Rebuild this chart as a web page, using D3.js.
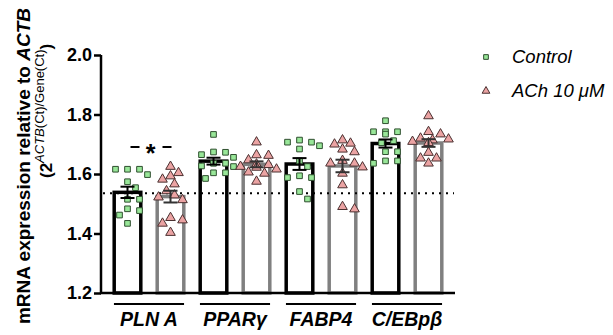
<!DOCTYPE html>
<html>
<head>
<meta charset="utf-8">
<script src="https://cdn.jsdelivr.net/npm/d3@7"></script>
<style>
body { margin: 0; background: #fff; }
text { font-family: Arial, "Liberation Sans", sans-serif; }
</style>
</head>
<body>
<div id="chart"></div>
<script>
// data
var genes = ['PLN A', 'PPARγ', 'FABP4', 'C/EBpβ'];
var groups = ['Control', 'ACh 10 μM'];
var controlVals = [
    [1.616, 1.616, 1.616, 1.598, 1.574, 1.554, 1.515, 1.515, 1.483, 1.477, 1.462, 1.434],
    [1.733, 1.673, 1.656, 1.665, 1.674, 1.636, 1.625, 1.627, 1.636, 1.604, 1.604, 1.585],
    [1.707, 1.714, 1.684, 1.695, 1.707, 1.644, 1.625, 1.594, 1.588, 1.588, 1.541, 1.516],
    [1.779, 1.742, 1.742, 1.742, 1.734, 1.712, 1.705, 1.675, 1.675, 1.644, 1.636, 1.644]
];
var achVals = [
    [1.625, 1.604, 1.593, 1.582, 1.566, 1.543, 1.529, 1.522, 1.513, 1.453, 1.445, 1.434, 1.403],
    [1.707, 1.662, 1.664, 1.647, 1.633, 1.631, 1.622, 1.616, 1.625, 1.606, 1.602, 1.575],
    [1.703, 1.714, 1.700, 1.683, 1.674, 1.636, 1.645, 1.636, 1.623, 1.602, 1.563, 1.482, 1.490],
    [1.795, 1.734, 1.742, 1.714, 1.717, 1.720, 1.705, 1.709, 1.672, 1.653, 1.636, 1.653]
];
var yTicks = [1.2, 1.4, 1.6, 1.8, 2.0];
var refLine = 1.535;

var width = 613, height = 335;
var svg = d3.select('#chart').append('svg')
    .attr('width', width)
    .attr('height', height);

// one row per bar
var rows = [];
genes.forEach(function (g, i) {
    rows.push({ key: g + '|c', gene: g, grp: 0, vals: controlVals[i] });
    rows.push({ key: g + '|a', gene: g, grp: 1, vals: achVals[i] });
});
rows.forEach(function (r) {
    r.mean = d3.mean(r.vals);
    r.sem = d3.deviation(r.vals) / Math.sqrt(r.vals.length);
});

var x = d3.scaleBand()
    .domain(rows.map(d => d.key))
    .range([106, 450])
    .paddingInner(0.3)
    .paddingOuter(0.15);

var y = d3.scaleLinear()
    .domain([1.2, 2.0])
    .range([293, 55]);

var bw = x.bandwidth();
var barStroke = ['#000', '#808080'];
var sw = 3.5;

// bars
svg.selectAll('.bar')
    .data(rows)
    .enter()
    .append('rect')
    .attr('class', 'bar')
    .attr('x', d => x(d.key) + sw / 2)
    .attr('y', d => y(d.mean))
    .attr('width', bw - sw)
    .attr('height', d => y(1.2) - y(d.mean))
    .attr('fill', '#fff')
    .attr('stroke', d => barStroke[d.grp])
    .attr('stroke-width', sw);

// dotted reference line
svg.append('line')
    .attr('x1', 103).attr('x2', 454)
    .attr('y1', y(refLine)).attr('y2', y(refLine))
    .attr('stroke', '#000')
    .attr('stroke-width', 2)
    .attr('stroke-dasharray', '2,5');

// simple swarm placement so points don't overlap
function swarm(vals, r) {
    var idx = vals.map((v, i) => i).sort((a, b) => vals[b] - vals[a]);
    var placed = [];
    var out = new Array(vals.length);
    idx.forEach(function (i) {
        var py = y(vals[i]);
        var cands = [0];
        for (var k = 1; k < 6; k++) { cands.push(k * 4); cands.push(-k * 4); }
        var best = 0;
        for (var c = 0; c < cands.length; c++) {
            var ok = placed.every(p => Math.hypot(p.x - cands[c], p.y - py) >= r);
            if (ok) { best = cands[c]; break; }
        }
        placed.push({ x: best, y: py });
        out[i] = best;
    });
    return out;
}

var pts = [];
rows.forEach(function (r) {
    var off = swarm(r.vals, 8.5);
    r.vals.forEach(function (v, i) {
        pts.push({ grp: r.grp, cx: x(r.key) + bw / 2 + off[i], cy: y(v) });
    });
});

var sq = d3.symbol().type(d3.symbolSquare).size(32);
var tri = d3.symbol().type(d3.symbolTriangle).size(40);
var sqLeg = d3.symbol().type(d3.symbolSquare).size(22);
var triLeg = d3.symbol().type(d3.symbolTriangle).size(26);

svg.selectAll('.pt')
    .data(pts)
    .enter()
    .append('path')
    .attr('class', 'pt')
    .attr('transform', d => 'translate(' + d.cx + ',' + d.cy + ')')
    .attr('d', d => d.grp === 0 ? sq() : tri())
    .attr('fill', d => d.grp === 0 ? '#98e698' : '#eba3a3')
    .attr('stroke', d => d.grp === 0 ? '#2f4f2f' : '#4a3030')
    .attr('stroke-width', 1);

// error bars (mean +/- SEM)
var eb = svg.selectAll('.err')
    .data(rows)
    .enter()
    .append('g')
    .attr('class', 'err')
    .attr('stroke', d => d.grp === 0 ? '#000' : '#333')
    .attr('stroke-width', 2);
eb.append('line')
    .attr('x1', d => x(d.key) + bw / 2).attr('x2', d => x(d.key) + bw / 2)
    .attr('y1', d => y(d.mean + d.sem)).attr('y2', d => y(d.mean - d.sem));
eb.append('line')
    .attr('x1', d => x(d.key) + bw / 2 - 7).attr('x2', d => x(d.key) + bw / 2 + 7)
    .attr('y1', d => y(d.mean + d.sem)).attr('y2', d => y(d.mean + d.sem));
eb.append('line')
    .attr('x1', d => x(d.key) + bw / 2 - 7).attr('x2', d => x(d.key) + bw / 2 + 7)
    .attr('y1', d => y(d.mean - d.sem)).attr('y2', d => y(d.mean - d.sem));

// axes
var yAxis = d3.axisLeft(y)
    .tickValues(yTicks)
    .tickFormat(d3.format('.1f'))
    .tickSize(7)
    .tickPadding(2);

var gy = svg.append('g')
    .attr('transform', 'translate(101,0)')
    .call(yAxis);
gy.select('.domain').attr('stroke-width', 2.5).attr('d', 'M0,' + y(2.0) + 'V' + y(1.2));
gy.selectAll('.tick line').attr('stroke-width', 2.5);
gy.selectAll('.tick text')
    .attr('font-size', 18)
    .attr('font-weight', 'bold')
    .attr('font-family', 'Arial, "Liberation Sans", sans-serif')
    .attr('fill', '#000');

svg.append('line')
    .attr('x1', 100).attr('x2', 455)
    .attr('y1', y(1.2)).attr('y2', y(1.2))
    .attr('stroke', '#000')
    .attr('stroke-width', 2.5);

// gene group labels
genes.forEach(function (g) {
    var x0 = x(g + '|c') + 1.5, x1 = x(g + '|a') + bw - 1.5;
    svg.append('line')
        .attr('x1', x0).attr('x2', x1)
        .attr('y1', 304).attr('y2', 304)
        .attr('stroke', '#000')
        .attr('stroke-width', 2);
    svg.append('text')
        .attr('x', (x0 + x1) / 2)
        .attr('y', 326)
        .attr('text-anchor', 'middle')
        .attr('font-size', 19.5)
        .attr('font-weight', 'bold')
        .attr('font-style', 'italic')
        .text(g);
});

// significance mark over PLN A
var sx = (x('PLN A|c') + x('PLN A|a') + bw) / 2 + 1.5;
svg.append('line').attr('x1', sx - 20).attr('x2', sx - 11).attr('y1', 147).attr('y2', 147)
    .attr('stroke', '#000').attr('stroke-width', 2);
svg.append('line').attr('x1', sx + 12).attr('x2', sx + 21).attr('y1', 147).attr('y2', 147)
    .attr('stroke', '#000').attr('stroke-width', 2);
svg.append('text')
    .attr('x', sx).attr('y', 162)
    .attr('text-anchor', 'middle')
    .attr('font-size', 25)
    .attr('font-weight', 'bold')
    .text('*');

// y title
var t1 = svg.append('text')
    .attr('transform', 'translate(30,166) rotate(-90)')
    .attr('text-anchor', 'middle')
    .attr('font-size', 19)
    .attr('font-weight', 'bold');
t1.append('tspan').text('mRNA expression relative to ');
t1.append('tspan').attr('font-style', 'italic').text('ACTB');

var t2 = svg.append('text')
    .attr('transform', 'translate(52,178) rotate(-90)')
    .attr('text-anchor', 'start')
    .attr('font-size', 17)
    .attr('font-weight', 'bold');
t2.append('tspan').text('(2');
var sup = t2.append('tspan').attr('dy', -8).attr('font-size', 13).attr('font-weight', 'normal');
sup.append('tspan').attr('font-style', 'italic').text('ACTB');
sup.append('tspan').text('(Ct)/Gene(Ct)');
t2.append('tspan').attr('dy', 8).text(')');

// legend
var leg = svg.selectAll('.leg')
    .data(groups)
    .enter()
    .append('g')
    .attr('class', 'leg')
    .attr('transform', (d, i) => 'translate(486,' + (57 + i * 34) + ')');
leg.append('path')
    .attr('d', (d, i) => i === 0 ? sqLeg() : triLeg())
    .attr('fill', (d, i) => i === 0 ? '#98e698' : '#eba3a3')
    .attr('stroke', (d, i) => i === 0 ? '#2f4f2f' : '#4a3030')
    .attr('stroke-width', 1);
leg.append('text')
    .attr('x', 26)
    .attr('y', 6)
    .attr('font-size', 18.5)
    .attr('font-style', 'italic')
    .text(d => d);
</script>
</body>
</html>
